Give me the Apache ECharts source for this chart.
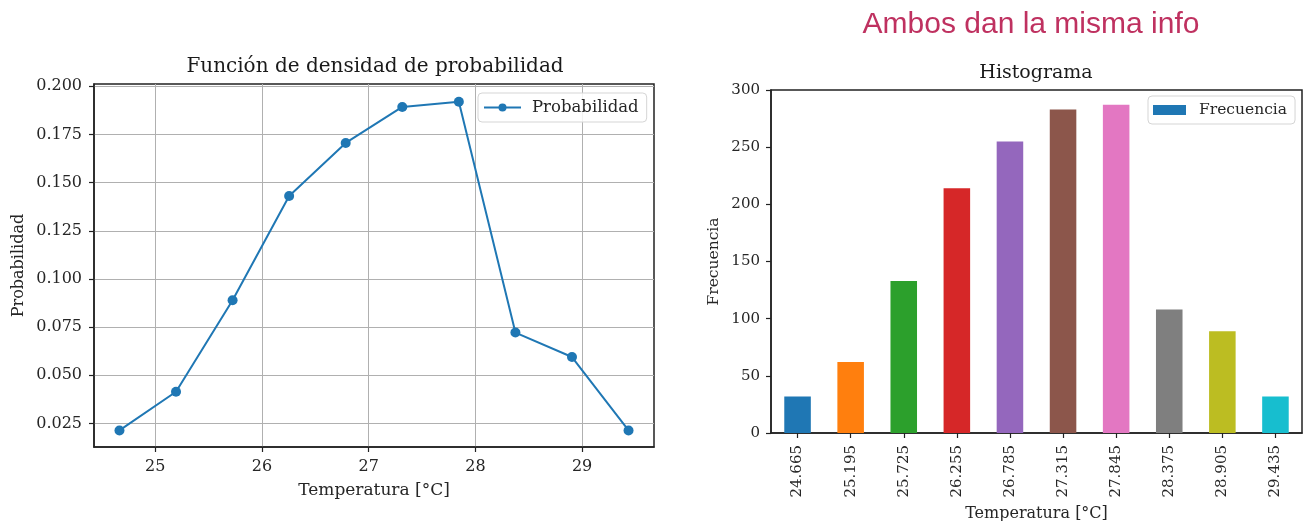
<!DOCTYPE html>
<html><head><meta charset="utf-8">
<script src="https://cdn.jsdelivr.net/npm/echarts@6/dist/echarts.min.js"></script>
<style>html,body{margin:0;padding:0;background:#fff}#c{width:1304px;height:521px}</style>
</head><body><div id="c"></div>
<script>
const temperatures = [24.665, 25.195, 25.725, 26.255, 26.785, 27.315, 27.845, 28.375, 28.905, 29.435];
const binLabels = ['24.665', '25.195', '25.725', '26.255', '26.785', '27.315', '27.845', '28.375', '28.905', '29.435'];
const probabilities = [0.0214, 0.0415, 0.0890, 0.1431, 0.1706, 0.1893, 0.1920, 0.0722, 0.0595, 0.0214];
const frequencies = [32, 62, 133, 214, 255, 283, 287, 108, 89, 32];
const barColors = ['#1f77b4', '#ff7f0e', '#2ca02c', '#d62728', '#9467bd', '#8c564b', '#e377c2', '#7f7f7f', '#bcbd22', '#17becf'];
const probXTicks = [25, 26, 27, 28, 29];
const probYTicks = [0.025, 0.050, 0.075, 0.100, 0.125, 0.150, 0.175, 0.200];
const freqYTicks = [0, 50, 100, 150, 200, 250, 300];
const pageTitle = 'Ambos dan la misma info';
const leftTitle = 'Función de densidad de probabilidad';
const rightTitle = 'Histograma';

const SERIF = 'DejaVu Serif';
const TXT = '#262626';
const FRAME = '#222';

function onTick(v, ticks) {
  return ticks.some(t => Math.abs(t - v) < 1e-9);
}

const chart = echarts.init(document.getElementById('c'), null, {renderer: 'canvas'});

const axisLineStyle = {show: true, lineStyle: {color: FRAME, width: 1.5}};
const tickStyle = {show: true, inside: false, length: 5, lineStyle: {color: FRAME, width: 1.2}};

chart.setOption({
  animation: false,
  backgroundColor: '#fff',
  graphic: [
    {type: 'text', x: 1031, y: 25, style: {text: pageTitle, font: '30px "Liberation Sans"', fill: '#bf3160', align: 'center', verticalAlign: 'middle', textAlign: 'center', textVerticalAlign: 'middle'}},
    {type: 'text', x: 375, y: 67, style: {text: leftTitle, font: '20px "DejaVu Serif"', fill: '#1a1a1a', align: 'center', verticalAlign: 'middle', textAlign: 'center', textVerticalAlign: 'middle'}},
    {type: 'text', x: 1036, y: 73, style: {text: rightTitle, font: '19px "DejaVu Serif"', fill: '#1a1a1a', align: 'center', verticalAlign: 'middle', textAlign: 'center', textVerticalAlign: 'middle'}}
  ],
  legend: [
    {
      data: ['Probabilidad'], left: 478, top: 93,
      itemWidth: 37, itemHeight: 10, padding: [6, 8, 6, 5],
      borderColor: '#d5d5d5', borderWidth: 1, borderRadius: 4,
      backgroundColor: 'rgba(255,255,255,0.85)',
      textStyle: {fontFamily: SERIF, fontSize: 16.5, color: TXT, padding: [0, 0, 0, 6]}
    },
    {
      data: ['Frecuencia'], left: 1148, top: 96, icon: 'rect',
      itemWidth: 33, itemHeight: 10, padding: [6, 8, 6, 5],
      borderColor: '#d5d5d5', borderWidth: 1, borderRadius: 4,
      backgroundColor: 'rgba(255,255,255,0.85)',
      textStyle: {fontFamily: SERIF, fontSize: 15.5, color: TXT, padding: [0, 0, 0, 8]}
    }
  ],
  grid: [
    {left: 94, top: 84, width: 560, height: 363, outerBoundsMode: 'none', containLabel: false, show: true, borderColor: FRAME, borderWidth: 1.5, backgroundColor: 'transparent'},
    {left: 771, top: 90, width: 531, height: 343, outerBoundsMode: 'none', containLabel: false, show: true, borderColor: FRAME, borderWidth: 1.5, backgroundColor: 'transparent'}
  ],
  xAxis: [
    {
      type: 'value', gridIndex: 0, min: 24.4265, max: 29.6735,
      minInterval: 1, maxInterval: 1,
      name: 'Temperatura [°C]', nameLocation: 'middle', nameGap: 35,
      nameTextStyle: {fontFamily: SERIF, fontSize: 17, color: TXT},
      axisLine: axisLineStyle,
      axisTick: Object.assign({}, tickStyle, {customValues: probXTicks}),
      axisLabel: {customValues: probXTicks, fontFamily: SERIF, fontSize: 16, color: TXT, margin: 12,
        formatter: v => onTick(v, probXTicks) ? String(v) : ''},
      splitLine: {show: true, lineStyle: {color: '#b0b0b0', width: 1}}
    },
    {
      type: 'category', gridIndex: 1, data: binLabels, boundaryGap: true,
      name: 'Temperatura [°C]', nameLocation: 'middle', nameGap: 70,
      nameTextStyle: {fontFamily: SERIF, fontSize: 16, color: TXT},
      axisLine: axisLineStyle,
      axisTick: Object.assign({}, tickStyle, {alignWithLabel: true}),
      axisLabel: {rotate: 90, fontFamily: SERIF, fontSize: 15, color: TXT, margin: 12, interval: 0},
      splitLine: {show: false}
    }
  ],
  yAxis: [
    {
      type: 'value', gridIndex: 0, min: 0.0128, max: 0.2012,
      minInterval: 0.025, maxInterval: 0.025,
      name: 'Probabilidad', nameLocation: 'middle', nameGap: 67, nameRotate: 90,
      nameTextStyle: {fontFamily: SERIF, fontSize: 16, color: TXT},
      axisLine: axisLineStyle,
      axisTick: Object.assign({}, tickStyle, {customValues: probYTicks}),
      axisLabel: {customValues: probYTicks, fontFamily: SERIF, fontSize: 16, color: TXT, margin: 12,
        formatter: v => onTick(v, probYTicks) ? v.toFixed(3) : ''},
      splitLine: {show: true, lineStyle: {color: '#b0b0b0', width: 1}}
    },
    {
      type: 'value', gridIndex: 1, min: 0, max: 300, interval: 50,
      name: 'Frecuencia', nameLocation: 'middle', nameGap: 49, nameRotate: 90,
      nameTextStyle: {fontFamily: SERIF, fontSize: 15.5, color: TXT},
      axisLine: axisLineStyle,
      axisTick: tickStyle,
      axisLabel: {fontFamily: SERIF, fontSize: 15, color: TXT, margin: 11,
        formatter: v => onTick(v, freqYTicks) ? String(v) : ''},
      splitLine: {show: false}
    }
  ],
  series: [
    {
      name: 'Probabilidad', type: 'line', xAxisIndex: 0, yAxisIndex: 0,
      data: temperatures.map((t, i) => [t, probabilities[i]]),
      symbol: 'circle', symbolSize: 10, showSymbol: true,
      lineStyle: {color: '#1f77b4', width: 2},
      itemStyle: {color: '#1f77b4'},
      z: 5
    },
    {
      name: 'Frecuencia', type: 'bar', xAxisIndex: 1, yAxisIndex: 1,
      barWidth: '50%',
      itemStyle: {color: '#1f77b4'},
      data: frequencies.map((v, i) => ({value: v, itemStyle: {color: barColors[i]}}))
    }
  ]
});
</script></body></html>
